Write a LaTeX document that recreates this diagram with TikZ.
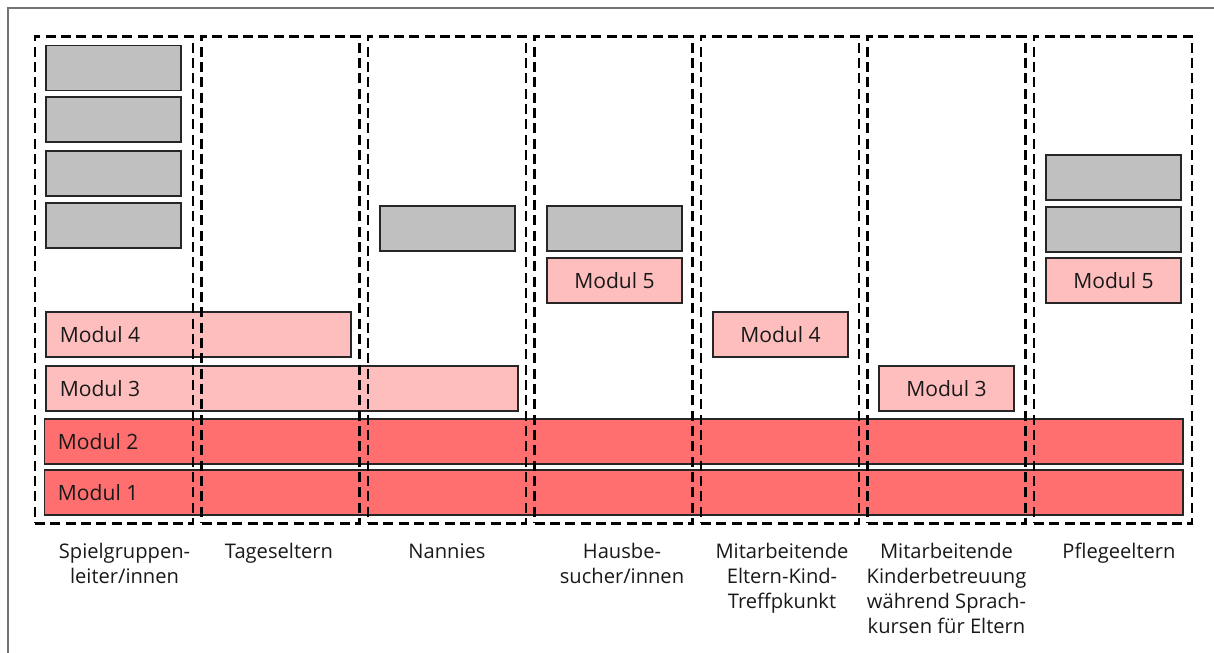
\documentclass[tikz,border=0pt]{standalone}
\usepackage{fontspec}
\setmainfont{Open Sans}
\begin{document}
\begin{tikzpicture}[x=0.75pt,y=-0.75pt,
  box/.style={draw=black!85, line width=1pt, inner sep=0pt, minimum height=33.75pt},
  grey box/.style={box, fill=boxgrey},
  light box/.style={box, fill=lightred},
  strong box/.style={box, fill=strongred},
  modtext/.style={font=\fontsize{15.8}{18}\selectfont, text=black!90},
  group/.style={draw=black, line width=2.2pt, dash pattern=on 7.5pt off 4pt, inner sep=0pt,
    minimum width=118.5pt, minimum height=365pt},
  grouplabel/.style={font=\fontsize{15.1}{18.75}\selectfont, align=center, anchor=north,
    inner sep=0pt, text=black!90}]
\definecolor{boxgrey}{HTML}{C0C0C0}
\definecolor{lightred}{HTML}{FFBEBE}
\definecolor{strongred}{HTML}{FF6F6F}
\useasboundingbox (0,0) rectangle (1214,653);
% frame
\coordinate (fbl) at (8,653);
\coordinate (ftl) at (8,8);
\coordinate (ftr) at (1214,8);
\draw[draw=black!55, line width=1.5pt] (fbl) -- (ftl) -- (ftr);

% shared modules
\node[strong box, minimum width=854pt] (m1) at (613.5,492.5) {};
\node[strong box, minimum width=854pt] (m2) at (613.5,441.5) {};
\node[light box, minimum width=354pt] (m3) at (282,388.5) {};
\node[light box, minimum width=228.75pt] (m4) at (198.5,334.5) {};
\node[modtext, anchor=west] (t1) at ([xshift=7.3pt]m1.west) {Modul 1};
\node[modtext, anchor=west] (t2) at ([xshift=7.3pt]m2.west) {Modul 2};
\node[modtext, anchor=west] (t3) at ([xshift=7.3pt]m3.west) {Modul 3};
\node[modtext, anchor=west] (t4) at ([xshift=7.3pt]m4.west) {Modul 4};

% single modules
\node[light box, modtext, minimum width=101.25pt] (m5a) at (614.5,280.5) {Modul 5};
\node[light box, modtext, minimum width=101.25pt] (m4b) at (780.5,334.5) {Modul 4};
\node[light box, modtext, minimum width=101.25pt] (m3b) at (946.5,388.5) {Modul 3};
\node[light box, modtext, minimum width=101.25pt] (m5b) at (1113.5,280.5) {Modul 5};

% grey blocks
\node[grey box, minimum width=101.25pt] (g1) at (113.5,68) {};
\node[grey box, minimum width=101.25pt] (g2) at (113.5,119.5) {};
\node[grey box, minimum width=101.25pt] (g3) at (113.5,173.5) {};
\node[grey box, minimum width=101.25pt] (g4) at (113.5,225.5) {};
\node[grey box, minimum width=101.25pt] (g5) at (447.5,228.5) {};
\node[grey box, minimum width=101.25pt] (g6) at (614.5,228.5) {};
\node[grey box, minimum width=101.25pt] (g7) at (1113.5,177.5) {};
\node[grey box, minimum width=101.25pt] (g8) at (1113.5,229.5) {};

% dashed groups
\node[group] (c1) at (114,280) {};
\node[group] (c2) at (280.5,280) {};
\node[group] (c3) at (447,280) {};
\node[group] (c4) at (613.5,280) {};
\node[group] (c5) at (780,280) {};
\node[group] (c6) at (946.5,280) {};
\node[group] (c7) at (1113,280) {};

% group labels
\node[grouplabel] (l1) at (124.5,543) {Spielgruppen-\\leiter/innen};
\node[grouplabel] (l2) at (279,543) {Tageseltern};
\node[grouplabel] (l3) at (447,543) {Nannies};
\node[grouplabel] (l4) at (622,543) {Hausbe-\\sucher/innen};
\node[grouplabel] (l5) at (782,543) {Mitarbeitende\\Eltern-Kind-\\Treffpkunkt};
\node[grouplabel] (l6) at (946.5,543) {Mitarbeitende\\Kinderbetreuung\\während Sprach-\\kursen für Eltern};
\node[grouplabel] (l7) at (1119,543) {Pflegeeltern};
\end{tikzpicture}
\end{document}
